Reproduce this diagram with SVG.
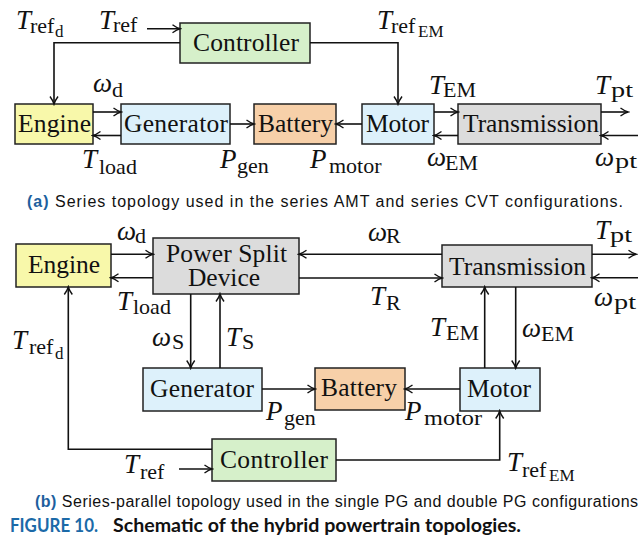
<svg xmlns="http://www.w3.org/2000/svg" width="638" height="540" viewBox="0 0 638 540">
<style>
.box{stroke:#222;stroke-width:1.5}
.ctl{fill:#d6f0ca}.eng{fill:#f8f8aa}.em{fill:#ddf1fb}.bat{fill:#f7d0a9}.gr{fill:#dcdcdc}
.t{font-family:"Liberation Serif",serif;font-size:25.5px;fill:#111}
.m{font-family:"Liberation Serif",serif;font-style:italic;font-size:27px;fill:#111}
.s{font-family:"Liberation Serif",serif;font-style:normal;font-size:22px}
.ss{font-family:"Liberation Serif",serif;font-style:normal;font-size:17px}
.c{fill:none;stroke:#111;stroke-width:1.6;marker-end:url(#ar)}
.cap{font-family:"Liberation Sans",Arial,sans-serif;font-size:16px;fill:#111}
.capb{font-weight:bold;fill:#1d5f9e}
.fig{font-family:Lato,"Liberation Sans",sans-serif;font-weight:bold;font-size:18px;fill:#111}
.figb{fill:#1b6aa8}
</style>
<defs>
<marker id="ar" markerUnits="userSpaceOnUse" markerWidth="12" markerHeight="12" refX="10" refY="6" orient="auto">
<path d="M2.5,2 Q7,5.2 10,6 Q7,6.8 2.5,10" fill="none" stroke="#111" stroke-width="1.4"/>
</marker>
</defs>

<!-- (a) series topology -->
<g id="a-controller"><rect class="box ctl" x="180" y="23" width="130" height="40"/><text class="t" x="193" y="51" textLength="106">Controller</text></g>
<g id="a-engine"><rect class="box eng" x="15" y="104" width="78" height="40"/><text class="t" x="18" y="132" textLength="73">Engine</text></g>
<g id="a-generator"><rect class="box em" x="121" y="104" width="109" height="40"/><text class="t" x="124" y="132" textLength="104">Generator</text></g>
<g id="a-battery"><rect class="box bat" x="254" y="104" width="82" height="40"/><text class="t" x="258" y="132" textLength="75">Battery</text></g>
<g id="a-motor"><rect class="box em" x="362" y="104" width="72" height="40"/><text class="t" x="366" y="132" textLength="63">Motor</text></g>
<g id="a-transmission"><rect class="box gr" x="458" y="104" width="143" height="40"/><text class="t" x="463" y="132" textLength="136">Transmission</text></g>

<g id="a-connectors">
<path class="c" d="M147,28.7 H180"/>
<path class="c" d="M180,42.7 H54 V104"/>
<path class="c" d="M310,42.7 H398 V104"/>
<path class="c" d="M93,112 H121"/>
<path class="c" d="M121,135.5 H93"/>
<path class="c" d="M230,124 H254"/>
<path class="c" d="M362,124 H336"/>
<path class="c" d="M434,112 H458"/>
<path class="c" d="M458,135.5 H434"/>
<path class="c" d="M601,112 H628"/>
<path class="c" d="M638,135.5 H601"/>
</g>
<g id="a-labels">
<text class="m"><tspan x="16" y="29">T</tspan><tspan class="s" x="30" y="33">ref</tspan><tspan class="ss" x="55" y="37">d</tspan></text>
<text class="m"><tspan x="99" y="29">T</tspan><tspan class="s" x="113" y="32">ref</tspan></text>
<text class="m"><tspan x="377" y="29">T</tspan><tspan class="s" x="391" y="33">ref</tspan><tspan class="ss" x="418" y="37">EM</tspan></text>
<text class="m"><tspan x="93" y="92">ω</tspan><tspan class="s" x="112" y="97">d</tspan></text>
<text class="m"><tspan x="82" y="168">T</tspan><tspan class="s" x="99" y="174">load</tspan></text>
<text class="m"><tspan x="220" y="168">P</tspan><tspan class="s" x="237" y="173">gen</tspan></text>
<text class="m"><tspan x="310" y="168">P</tspan><tspan class="s" x="329" y="173">motor</tspan></text>
<text class="m"><tspan x="429" y="94">T</tspan><tspan class="s" x="443" y="97">EM</tspan></text>
<text class="m"><tspan x="595" y="94">T</tspan><tspan class="s" x="611" y="97" textLength="22" lengthAdjust="spacingAndGlyphs">pt</tspan></text>
<text class="m"><tspan x="427" y="166">ω</tspan><tspan class="s" x="445" y="170">EM</tspan></text>
<text class="m"><tspan x="595" y="166">ω</tspan><tspan class="s" x="615" y="168" textLength="22" lengthAdjust="spacingAndGlyphs">pt</tspan></text>
</g>

<text class="cap" x="27" y="206.5" textLength="596"><tspan class="capb">(a)</tspan> Series topology used in the series AMT and series CVT configurations.</text>

<!-- (b) series-parallel topology -->
<g id="b-engine"><rect class="box eng" x="16" y="244" width="95" height="43"/><text class="t" x="28" y="273" textLength="72">Engine</text></g>
<g id="b-psd"><rect class="box gr" x="153" y="238" width="146" height="56"/><text class="t" x="166" y="262" textLength="121">Power Split</text><text class="t" x="188" y="286" textLength="72">Device</text></g>
<g id="b-transmission"><rect class="box gr" x="442" y="245" width="150" height="42"/><text class="t" x="449" y="275" textLength="137">Transmission</text></g>
<g id="b-generator"><rect class="box em" x="143" y="368" width="119" height="43"/><text class="t" x="150" y="397" textLength="104">Generator</text></g>
<g id="b-battery"><rect class="box bat" x="315" y="368" width="90" height="42"/><text class="t" x="321" y="396" textLength="76">Battery</text></g>
<g id="b-motor"><rect class="box em" x="460" y="368" width="80" height="43"/><text class="t" x="467" y="397" textLength="64">Motor</text></g>
<g id="b-controller"><rect class="box ctl" x="212" y="439" width="124" height="42"/><text class="t" x="220" y="468" textLength="108">Controller</text></g>

<g id="b-connectors">
<path class="c" d="M111,254.3 H153"/>
<path class="c" d="M153,277.7 H111"/>
<path class="c" d="M442,254.3 H299"/>
<path class="c" d="M299,278 H442"/>
<path class="c" d="M592,254.3 H636"/>
<path class="c" d="M638,277.7 H592"/>
<path class="c" d="M190.7,294 V368"/>
<path class="c" d="M220,368 V294"/>
<path class="c" d="M262,389 H315"/>
<path class="c" d="M460,389 H405"/>
<path class="c" d="M484.7,368 V287"/>
<path class="c" d="M515.7,287 V368"/>
<path class="c" d="M212,449.3 H68.3 V287"/>
<path class="c" d="M179,469 H212"/>
<path class="c" d="M336,460 H499.7 V411"/>
</g>
<g id="b-labels">
<text class="m"><tspan x="117" y="240">ω</tspan><tspan class="s" x="135" y="243">d</tspan></text>
<text class="m"><tspan x="117" y="310">T</tspan><tspan class="s" x="133" y="314">load</tspan></text>
<text class="m"><tspan x="368" y="241">ω</tspan><tspan class="s" x="386" y="243">R</tspan></text>
<text class="m"><tspan x="370" y="305">T</tspan><tspan class="s" x="386" y="310">R</tspan></text>
<text class="m"><tspan x="595" y="239">T</tspan><tspan class="s" x="610" y="242" textLength="22" lengthAdjust="spacingAndGlyphs">pt</tspan></text>
<text class="m"><tspan x="594" y="306">ω</tspan><tspan class="s" x="614" y="309" textLength="22" lengthAdjust="spacingAndGlyphs">pt</tspan></text>
<text class="m"><tspan x="152" y="346">ω</tspan><tspan class="s" x="172" y="349">S</tspan></text>
<text class="m"><tspan x="226" y="346">T</tspan><tspan class="s" x="242" y="349">S</tspan></text>
<text class="m"><tspan x="12" y="349">T</tspan><tspan class="s" x="29" y="354">ref</tspan><tspan class="ss" x="55" y="359">d</tspan></text>
<text class="m"><tspan x="430" y="336">T</tspan><tspan class="s" x="446" y="340">EM</tspan></text>
<text class="m"><tspan x="522" y="337">ω</tspan><tspan class="s" x="541" y="341">EM</tspan></text>
<text class="m"><tspan x="266" y="420">P</tspan><tspan class="s" x="284" y="425">gen</tspan></text>
<text class="m"><tspan x="405" y="420">P</tspan><tspan class="s" x="424" y="425" textLength="58" lengthAdjust="spacingAndGlyphs">motor</tspan></text>
<text class="m"><tspan x="124" y="473">T</tspan><tspan class="s" x="140" y="479">ref</tspan></text>
<text class="m"><tspan x="507" y="471">T</tspan><tspan class="s" x="522" y="477">ref</tspan><tspan class="ss" x="549" y="481">EM</tspan></text>
</g>

<text class="cap" x="35" y="507" textLength="608"><tspan class="capb">(b)</tspan> Series-parallel topology used in the single PG and double PG configurations.</text>
<text class="fig" x="10" y="531.5"><tspan class="figb" textLength="88" lengthAdjust="spacingAndGlyphs">FIGURE 10.</tspan><tspan x="113" textLength="408" lengthAdjust="spacingAndGlyphs">Schematic of the hybrid powertrain topologies.</tspan></text>
</svg>
